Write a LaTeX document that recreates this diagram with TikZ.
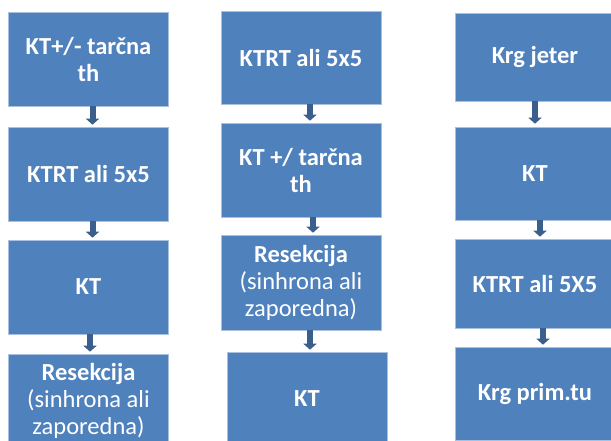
\documentclass[tikz,border=0pt]{standalone}
\usepackage{fontspec}
\setmainfont{Carlito}
\usetikzlibrary{arrows.meta}
\definecolor{boxblue}{HTML}{4F81BD}
\definecolor{boxedge}{HTML}{A9C0DE}
\definecolor{arrowblue}{HTML}{3A5F8C}
\newcommand{\rl}[1]{{\mdseries #1}}
\begin{document}
\begin{tikzpicture}[x=1pt,y=-1pt,
  box/.style={fill=boxblue, draw=boxedge, line width=0.6pt, minimum width=160pt,
    minimum height=94pt, inner sep=0pt, text=white, align=center,
    font=\fontsize{24.5}{27}\selectfont\bfseries},
  flow/.style={draw=arrowblue, line width=6pt, -{Triangle[width=13pt,length=6pt]}}]
\useasboundingbox (0,0) rectangle (611,441);
\clip (0,0) rectangle (611,441);
\fill[white] (0,0) rectangle (611,441);
% column 1
\node[box] (a1) at (88.5,59) {KT+/- tarčna\\th};
\node[box] (a2) at (88.5,174) {KTRT ali 5x5};
\node[box] (a3) at (88.5,287) {KT};
\node[box] (a4) at (88.5,401) {Resekcija\\\rl{(sinhrona ali}\\\rl{zaporedna)}};
% column 2
\node[box, minimum height=93pt] (b1) at (301,57.5) {KTRT ali 5x5};
\node[box] (b2) at (301,170) {KT +/ tarčna\\th};
\node[box, minimum height=95pt] (b3) at (301,282.5) {Resekcija\\\rl{(sinhrona ali}\\\rl{zaporedna)}};
\node[box] (b4) at (307,399) {KT};
% column 3
\node[box, minimum height=88pt] (c1) at (535,57) {Krg jeter};
\node[box, minimum height=93pt] (c2) at (535,173.5) {KT};
\node[box, minimum height=89pt] (c3) at (535,283.5) {KTRT ali 5X5};
\node[box, minimum height=93pt] (c4) at (535,393.5) {Krg prim.tu};
% arrows
\draw[flow] ([xshift=4pt]a1.south) -- ([xshift=4pt,yshift=2pt]a2.north);
\draw[flow] ([xshift=4pt]a2.south) -- ([xshift=4pt,yshift=2pt]a3.north);
\draw[flow] ([xshift=1.5pt]a3.south) -- ([xshift=1.5pt,yshift=2pt]a4.north);
\draw[flow] ([xshift=9pt]b1.south) -- ([xshift=9pt,yshift=2pt]b2.north);
\draw[flow] ([xshift=12pt]b2.south) -- ([xshift=12pt,yshift=2pt]b3.north);
\draw[flow] ([xshift=9pt]b3.south) -- ([xshift=3pt,yshift=2pt]b4.north);
\draw[flow] ([xshift=0pt]c1.south) -- ([xshift=0pt,yshift=3pt]c2.north);
\draw[flow] ([xshift=5pt]c2.south) -- ([xshift=5pt,yshift=2pt]c3.north);
\draw[flow] ([xshift=8pt]c3.south) -- ([xshift=8pt,yshift=2pt]c4.north);
\end{tikzpicture}
\end{document}
